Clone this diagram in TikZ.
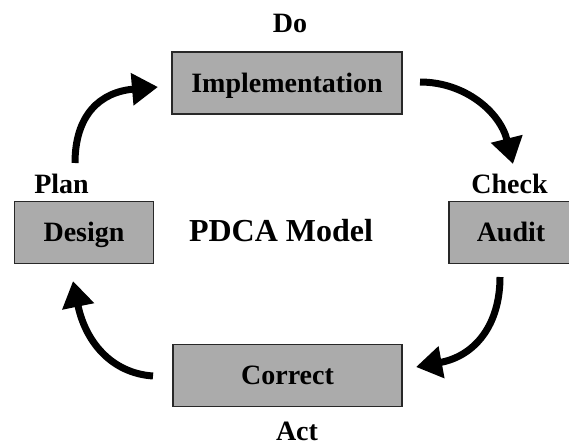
\documentclass[tikz,border=0pt]{standalone}
\usepackage{fontspec}
\setmainfont{Liberation Serif}
\usetikzlibrary{arrows.meta}
\definecolor{boxgray}{RGB}{171,171,171}
\definecolor{boxline}{RGB}{40,40,40}
\tikzset{
  stagebox/.style={draw=boxline, line width=1.3pt, fill=boxgray, inner sep=0pt,
    minimum height=62pt, text height=18pt, text depth=0pt,
    font=\fontsize{28}{32}\selectfont\bfseries},
  phase/.style={anchor=base, inner sep=0pt, font=\fontsize{28}{32}\selectfont\bfseries},
  title/.style={anchor=base, inner sep=0pt, font=\fontsize{32}{36}\selectfont\bfseries},
  cyclearrow/.style={line width=7pt, -{Triangle[length=26pt,width=31pt]}}
}
\begin{document}
\begin{tikzpicture}[x=1pt,y=-1pt]
\useasboundingbox (0,0) rectangle (569,447);
% boxes
\node[stagebox, minimum width=230pt] (impl) at (287,83) {Implementation};
\node[stagebox, minimum width=139pt] (design) at (84,232.5) {Design};
\node[stagebox, minimum width=124pt] (audit) at (511,232.5) {Audit};
\node[stagebox, minimum width=229pt] (correct) at (287.5,375.5) {Correct};
% phase labels
\node[phase] (do) at (290,32) {Do};
\node[phase] (plan) at (61.5,193) {Plan};
\node[phase] (check) at (509.5,193) {Check};
\node[phase] (act) at (297,440) {Act};
\node[title] (model) at (281,241) {PDCA Model};
% arrow end points
\coordinate (a1s) at (75,163);
\coordinate (a1e) at (158,87);
\coordinate (a2s) at (420,82);
\coordinate (a2e) at (513,164);
\coordinate (a3s) at (500,277);
\coordinate (a3e) at (416,367);
\coordinate (a4s) at (153,376);
\coordinate (a4e) at (73,281);
% arrows
\draw[cyclearrow] (a1s) .. controls (75,115) and (100,92) .. (a1e);
\draw[cyclearrow] (a2s) .. controls (465,82) and (500,112) .. (a2e);
\draw[cyclearrow] (a3s) .. controls (500,325) and (475,356) .. (a3e);
\draw[cyclearrow] (a4s) .. controls (110,373) and (85,340) .. (a4e);
\end{tikzpicture}
\end{document}
